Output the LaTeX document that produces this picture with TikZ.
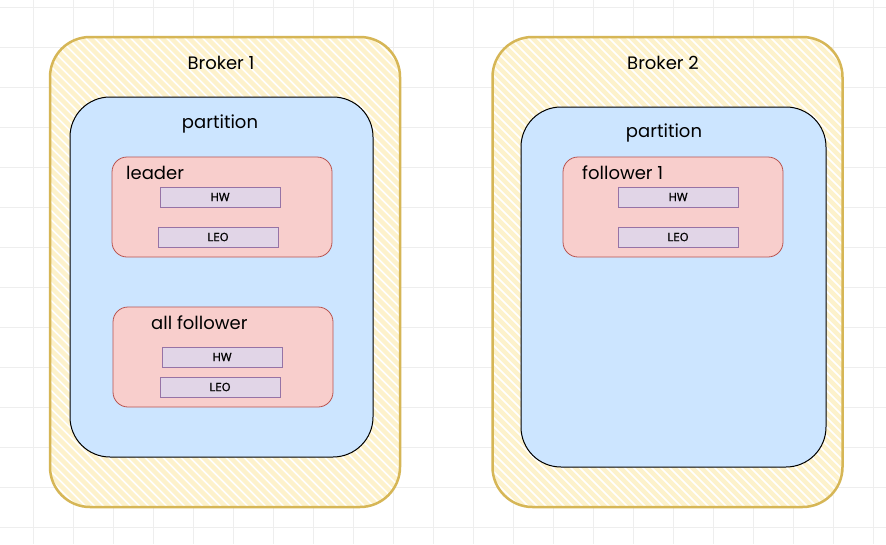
\documentclass[tikz,border=0pt]{standalone}
\usepackage{fontspec}
\setmainfont{Poppins}
\newfontfamily\smallfont[FakeBold=1.2]{Open Sans}
\usetikzlibrary{calc}
\definecolor{hatchY}{HTML}{FDF2CC}
\definecolor{brokerline}{HTML}{D6B656}
\definecolor{partfill}{HTML}{CCE5FF}
\definecolor{pinkfill}{HTML}{F8CECC}
\definecolor{pinkline}{HTML}{B85450}
\definecolor{purpfill}{HTML}{E1D5E7}
\definecolor{purpline}{HTML}{9673A6}
\definecolor{gridc}{HTML}{EEEEEE}
\tikzset{
  brokerbox/.style={draw=brokerline, line width=2.5pt, fill=white, rounded corners=40pt,
    inner sep=0pt, minimum width=350pt, minimum height=470pt,
    path picture={
      \foreach \k in {0,...,110}
        \draw[hatchY, line width=4.5pt]
          ($(path picture bounding box.north west)+(\k*9-520,-10)$) -- ++(620,620);
    }},
  partbox/.style={draw=black, line width=1pt, fill=partfill, rounded corners=40pt,
    inner sep=0pt, minimum height=360pt},
  replbox/.style={draw=pinkline, line width=0.8pt, fill=pinkfill, rounded corners=15pt,
    inner sep=0pt, minimum width=220pt, minimum height=100pt},
  valbox/.style={draw=purpline, line width=0.8pt, fill=purpfill, inner sep=0pt,
    minimum width=120pt, minimum height=20pt, font=\smallfont\fontsize{11.5}{13}\selectfont},
  bigtext/.style={inner sep=0pt, font=\fontsize{18}{20}\selectfont},
}
\begin{document}
\begin{tikzpicture}[x=1pt,y=-1pt]
\useasboundingbox (0,0) rectangle (886,544);
\fill[white] (0,0) rectangle (886,544);
\foreach \x in {33,73,...,873} \draw[gridc, line width=0.8pt] (\x,0) -- (\x,544);
\foreach \y in {7,47,...,527} \draw[gridc, line width=0.8pt] (0,\y) -- (886,\y);

% Broker 1
\node[brokerbox] (b1) at (225,272) {};
\node[bigtext] (b1t) at (221,63) {Broker 1};
\node[partbox, minimum width=303pt] (p1) at (221.5,277) {};
\node[bigtext] (p1t) at (220,124) {partition};
\node[replbox] (lead) at (222,207) {};
\node[bigtext, anchor=west] (leadt) at (126,173) {leader};
\node[valbox] (lhw) at (220,197) {HW};
\node[valbox] (lleo) at (218,237) {LEO};
\node[replbox] (allf) at (223,357) {};
\node[bigtext, anchor=west] (allft) at (151,323) {all follower};
\node[valbox] (ahw) at (222,357) {HW};
\node[valbox] (aleo) at (220,387) {LEO};

% Broker 2
\node[brokerbox] (b2) at (667.5,272) {};
\node[bigtext] (b2t) at (663,63) {Broker 2};
\node[partbox, minimum width=305pt] (p2) at (673.5,287) {};
\node[bigtext] (p2t) at (664,133) {partition};
\node[replbox] (f1) at (673,207) {};
\node[bigtext, anchor=west] (f1t) at (582,173) {follower 1};
\node[valbox] (fhw) at (678,197) {HW};
\node[valbox] (fleo) at (678,237) {LEO};
\end{tikzpicture}
\end{document}
